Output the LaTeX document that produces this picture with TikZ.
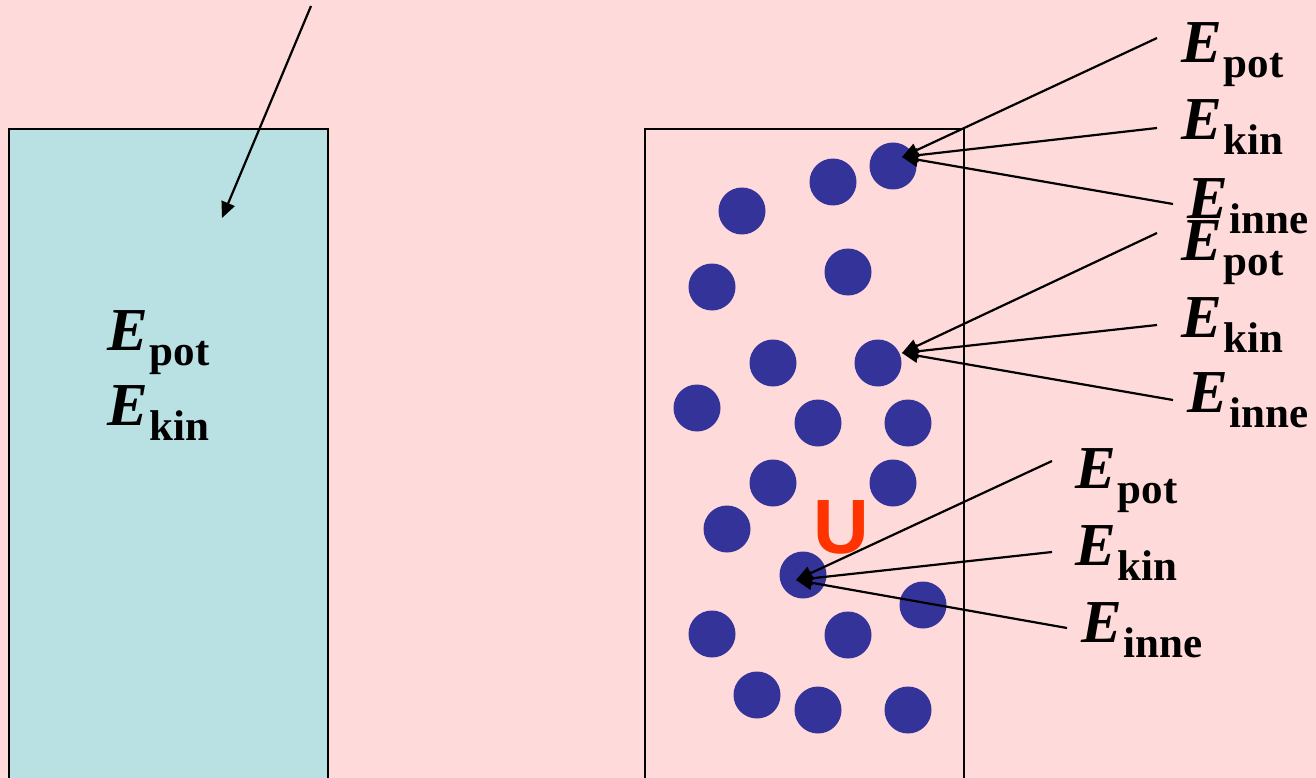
\documentclass[tikz,border=0pt]{standalone}
\usepackage{fontspec}
\setmainfont{Liberation Serif}
\setsansfont{Liberation Sans}
\usetikzlibrary{arrows.meta,calc}
\definecolor{bgpink}{HTML}{FFDADA}
\definecolor{boxteal}{HTML}{B9E0E2}
\definecolor{dotblue}{HTML}{333399}
\definecolor{ured}{HTML}{FF3300}
\newcommand{\Elab}[1]{{\fontsize{61}{61}\selectfont\bfseries\itshape E}\kern2pt\raisebox{-15pt}{\fontsize{43}{43}\selectfont\bfseries #1}}
\tikzset{
  x=1pt,y=-1pt,
  particle/.style={circle,fill=dotblue,draw=none,minimum size=47pt,inner sep=0pt},
  elabel/.style={anchor=base west,inner sep=0pt,outer sep=0pt},
  arr/.style={line width=2.2pt,-{Triangle[length=16pt,width=14pt]}},
  container/.style={draw=black,line width=1.8pt,anchor=north west,inner sep=0pt,minimum width=319pt,minimum height=660pt}
}
\begin{document}
\begin{tikzpicture}
\fill[bgpink] (0,0) rectangle (1316,778);
\useasboundingbox (0,0) rectangle (1316,778);

% left solid block
\node[container,fill=boxteal] (box1) at (8,128) {};
\node[elabel] (lpot) at (107,350) {\Elab{pot}};
\node[elabel] (lkin) at (107,425) {\Elab{kin}};
\coordinate (astart) at (311,6);
\coordinate (aend) at (222,218);
\draw[arr] (astart) -- (aend);

% right box with particles
\node[container] (box2) at (644,128) {};
\node[particle] (d1) at (742,211) {};
\node[particle] (d2) at (833,182) {};
\node[particle] (d3) at (893,166) {};
\node[particle] (d4) at (712,287) {};
\node[particle] (d5) at (848,272) {};
\node[particle] (d6) at (773,363) {};
\node[particle] (d7) at (878,363) {};
\node[particle] (d8) at (697,408) {};
\node[particle] (d9) at (818,423) {};
\node[particle] (d10) at (908,423) {};
\node[particle] (d11) at (773,483) {};
\node[particle] (d12) at (893,483) {};
\node[particle] (d13) at (727,529) {};
\node[particle] (d14) at (803,575) {};
\node[particle] (d15) at (923,605) {};
\node[particle] (d16) at (712,634) {};
\node[particle] (d17) at (848,635) {};
\node[particle] (d18) at (757,695) {};
\node[particle] (d19) at (818,710) {};
\node[particle] (d20) at (908,710) {};

\node[anchor=base west,inner sep=0pt,text=ured] (U) at (813,553) {\fontsize{77}{77}\selectfont\sffamily\bfseries U};

% labels group 1
\node[elabel] (g1pot) at (1181,63) {\Elab{pot}};
\node[elabel] (g1kin) at (1181,140) {\Elab{kin}};
\node[elabel] (g1inne) at (1187,218) {\Elab{inne}};
% labels group 2
\node[elabel] (g2pot) at (1181,260) {\Elab{pot}};
\node[elabel] (g2kin) at (1181,337) {\Elab{kin}};
\node[elabel] (g2inne) at (1187,412) {\Elab{inne}};
% labels group 3
\node[elabel] (g3pot) at (1075,488) {\Elab{pot}};
\node[elabel] (g3kin) at (1075,565) {\Elab{kin}};
\node[elabel] (g3inne) at (1081,642) {\Elab{inne}};

% arrows group 1
\draw[arr] ($(g1pot.base west)+(-24,-25)$) -- ($(d3.center)+(9,-9)$);
\draw[arr] ($(g1kin.base west)+(-24,-12)$) -- ($(d3.center)+(9,-9)$);
\draw[arr] ($(g1inne.base west)+(-14,-14)$) -- ($(d3.center)+(9,-9)$);
% arrows group 2
\draw[arr] ($(g2pot.base west)+(-24,-27)$) -- ($(d7.center)+(24,-10)$);
\draw[arr] ($(g2kin.base west)+(-24,-12)$) -- ($(d7.center)+(24,-10)$);
\draw[arr] ($(g2inne.base west)+(-14,-12)$) -- ($(d7.center)+(24,-10)$);
% arrows group 3
\draw[arr] ($(g3pot.base west)+(-23,-27)$) -- ($(d14.center)+(-7,5)$);
\draw[arr] ($(g3kin.base west)+(-23,-13)$) -- ($(d14.center)+(-7,5)$);
\draw[arr] ($(g3inne.base west)+(-14,-14)$) -- ($(d14.center)+(-7,5)$);
\end{tikzpicture}
\end{document}
